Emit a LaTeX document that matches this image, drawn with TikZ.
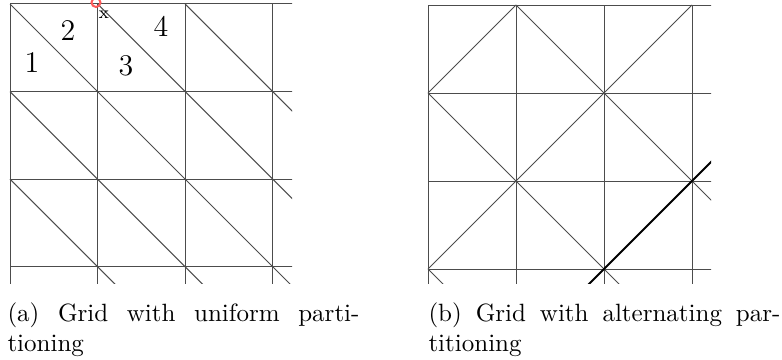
\documentclass[tikz,border=0pt]{standalone}
\usetikzlibrary{positioning}
\begin{document}
\begin{tikzpicture}[
    x=0.4pt, y=-0.4pt,
    mesh/.style={draw=black!70, line width=0.4pt},
    marked/.style={draw=black, line width=0.8pt},
    cellnum/.style={font=\large, inner sep=0pt},
    caption/.style={text width=140.8pt, align=justify, inner sep=0pt, anchor=base west}
]
\clip (0,0) rectangle (782,360);
\begin{scope}
\clip (9,3) rectangle (292,283);
\foreach \k in {0,...,3} {
  \draw[mesh] (10,4+87.6*\k) -- +(300,0);
  \draw[mesh] (10+87.6*\k,4) -- +(0,300);
}
\foreach \a/\b in {10/4, 97.6/4, 185.2/4, 10/91.6, 10/179.2}
  \draw[mesh] (\a,\b) -- +(300,300);
\end{scope}
\node[cellnum] (one) at (32,63) {1};
\node[cellnum] (two) at (68,31) {2};
\node[cellnum] (three) at (126,66) {3};
\node[cellnum] (four) at (161,26) {4};
\node[font=\scriptsize, inner sep=0pt] (vtx) at (104,15) {x};
\draw[red!65, line width=0.8pt] (96,2.5) circle[radius=1.8pt];
\begin{scope}[shift={(428,5)}]
\clip (-1,-1) rectangle (283,278);
\foreach \k in {0,...,3} {
  \draw[mesh] (0,88*\k) -- +(300,0);
  \draw[mesh] (88*\k,0) -- +(0,300);
}
\foreach \a/\b/\c/\d in {0/1/1/0, 0/3/3/0, 1/0/4/3, 0/1/3/4, 0/3/1/4}
  \draw[mesh] (88*\a,88*\b) -- (88*\c,88*\d);
\draw[marked] (88,352) -- (352,88);
\end{scope}
\node[caption] (capa) at (7,321) {(a) Grid with uniform parti-\linebreak tioning};
\node[caption] (capb) at (428,321) {(b) Grid with alternating par-\linebreak titioning};
\end{tikzpicture}
\end{document}
